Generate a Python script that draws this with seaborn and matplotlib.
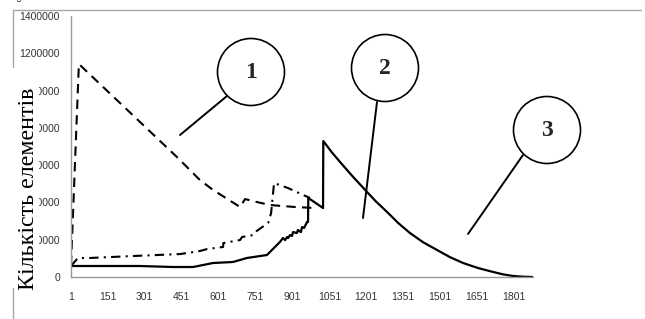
import numpy as np
import pandas as pd
import matplotlib
matplotlib.use("Agg")
import matplotlib.pyplot as plt
import seaborn as sns
from matplotlib.lines import Line2D
from matplotlib.patches import Circle, Rectangle

# ---- data (category index, number of elements) ----
solid_x = [1, 281, 415, 497, 578, 659, 716, 797, 850, 862, 871, 879, 883, 891,
           899, 903, 919, 923, 935, 940, 948, 960, 964, 965, 1025, 1026, 1060,
           1094, 1145, 1196, 1240, 1285, 1330, 1378, 1432, 1488, 1540, 1594,
           1655, 1716, 1757, 1797, 1838, 1878]
solid_y = [59000, 59000, 53600, 53600, 75000, 80500, 102000, 118000, 188000,
           209000, 198000, 214500, 209000, 225000, 220000, 241000, 236000,
           252000, 241000, 268000, 263000, 295000, 295000, 424000, 370000,
           729500, 670000, 617000, 540000, 467000, 405000, 349000, 290000,
           236000, 186000, 145000, 107000, 75000, 48000, 27000, 14000, 5400,
           1500, 0]

dashed_x = [1, 33, 431, 525, 578, 688, 708, 757, 810, 911, 992]
dashed_y = [64000, 1142500, 644000, 520000, 467000, 375500, 418000, 402000,
            386000, 375500, 370000]

dashdot_x = [1, 29, 78, 253, 444, 525, 554, 619, 620, 688, 696, 741, 749, 802,
             814, 826, 883, 944, 972]
dashdot_y = [59000, 102000, 102000, 112600, 123000, 139500, 150000, 161000,
             182000, 198500, 214500, 225000, 241000, 290000, 343000, 504000,
             477000, 440000, 424000]

x_ticks = [1, 151, 301, 451, 601, 751, 901, 1051, 1201, 1351, 1501, 1651, 1801]
y_ticks = [0, 200000, 400000, 600000, 800000, 1000000, 1200000, 1400000]
y_label = "Кількість елементів"
callouts = ["1", "2", "3"]

sns.set_style("white")
plt.rcParams['font.family'] = ['Liberation Sans', 'DejaVu Sans']

W, H = 645, 319
fig = plt.figure(figsize=(W / 100, H / 100), dpi=100)
ax = fig.add_axes([71 / W, 42 / H, (533 - 71) / W, 261 / H])


def px(x, y):
    # figure pixel (from top-left) -> inches for dpi_scale_trans
    return x / 100, (H - y) / 100


sns.lineplot(x=dashed_x, y=dashed_y, ax=ax, color='black', lw=1.5,
             estimator=None, sort=False)
ax.lines[-1].set_dashes((4.5, 3))
sns.lineplot(x=dashdot_x, y=dashdot_y, ax=ax, color='black', lw=1.5,
             estimator=None, sort=False)
ax.lines[-1].set_dashes((4.5, 2.5, 1, 2.5))
sns.lineplot(x=solid_x, y=solid_y, ax=ax, color='black', lw=1.6,
             estimator=None, sort=False)

ax.set_xlim(1, 1878)
ax.set_ylim(0, 1400000)
ax.set_xticks(x_ticks)
ax.set_xticklabels([str(v) for v in x_ticks])
ax.set_yticks(y_ticks)
ax.set_yticklabels([str(v) for v in y_ticks])
ax.tick_params(axis='both', labelsize=7.5, colors='#333333', length=3,
               width=0.8, direction='out')
ax.tick_params(axis='x', pad=8, color='#999999')
ax.tick_params(axis='y', pad=5, color='#999999')
ax.set_xlabel("")
ax.set_ylabel("")
for s in ['top', 'right']:
    ax.spines[s].set_visible(False)
for s in ['left', 'bottom']:
    ax.spines[s].set_color('#999999')
    ax.spines[s].set_linewidth(1.0)

# outer chart-area frame (top and left edges)
tr = fig.dpi_scale_trans
fig.add_artist(Line2D([px(13, 9.5)[0], px(641, 9.5)[0]],
                      [px(13, 9.5)[1], px(641, 9.5)[1]],
                      transform=tr, color='#a6a6a6', lw=1.0, zorder=1))
fig.add_artist(Line2D([px(13, 9.5)[0], px(13, 319)[0]],
                      [px(13, 9.5)[1], px(13, 319)[1]],
                      transform=tr, color='#a6a6a6', lw=1.0, zorder=1))

# white box behind the axis title, covering part of the tick labels
x0, y0 = px(4, 288)
fig.add_artist(Rectangle((x0, y0), 0.35, 2.20, transform=tr,
                         facecolor='white', edgecolor='none', zorder=3))
fig.text(*px(29, 189), y_label, transform=tr, rotation=90, ha='center',
         va='center', fontsize=17.3, family=['Liberation Serif', 'DejaVu Serif'],
         color='black', zorder=4)

# fragment of the text line above the chart
fig.text(*px(22, -6), "у", transform=tr, ha='center', va='center',
         fontsize=14, family=['Liberation Serif', 'DejaVu Serif'], zorder=4)

# numbered circle callouts
circles = [(251, 72), (385, 68), (547, 130)]
leaders = [((180, 135), (227, 96)), ((363, 218), (377, 102)),
           ((468, 234), (523, 155))]
for label, (cx, cy), (p0, p1) in zip(callouts, circles, leaders):
    fig.add_artist(Circle(px(cx, cy), 0.335, transform=tr, facecolor='white',
                          edgecolor='black', lw=1.2, zorder=5))
    fig.text(*px(cx, cy + 1), label, transform=tr, ha='center', va='center',
             fontsize=17, fontweight='bold',
             family=['Liberation Serif', 'DejaVu Serif'], zorder=6)
    fig.add_artist(Line2D([px(*p0)[0], px(*p1)[0]], [px(*p0)[1], px(*p1)[1]],
                          transform=tr, color='black', lw=1.4, zorder=5))

fig.savefig("out.png", dpi=100)
